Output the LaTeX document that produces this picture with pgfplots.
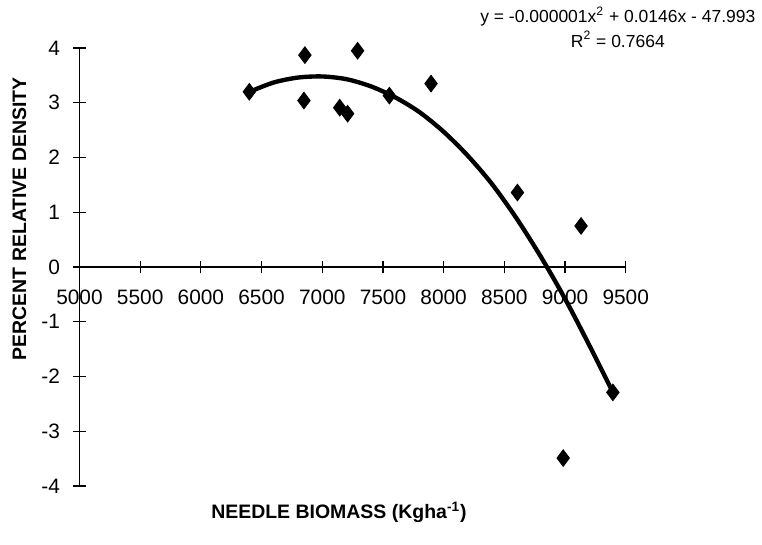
\documentclass[border=0pt]{standalone}
\usepackage{fontspec}
\setmainfont{Liberation Sans}
\usepackage{pgfplots}
\pgfplotsset{compat=1.18}

\begin{document}
\begin{tikzpicture}
\begin{axis}[
	width=275pt,
	height=220.5pt,
	scale only axis,
	xmin=5000, xmax=9500,
	ymin=-4, ymax=4,
	axis x line=middle,
	axis y line=left,
	axis line style={-, line width=0.6pt},
	xtick={5000,5500,...,9500},
	ytick={-4,-3,...,4},
	hide obscured x ticks=false,
	hide obscured y ticks=false,
	xtick align=center,
	ytick align=center,
	major tick length=6.5pt,
	tick style={black, line width=0.6pt},
	/pgf/number format/assume math mode=true,
	/pgf/number format/1000 sep={},
	ticklabel style={font=\fontsize{10.5}{12}\selectfont},
	xticklabel style={yshift=-5pt},
	yticklabel style={xshift=-3pt},
	xlabel={\textbf{NEEDLE BIOMASS (Kgha\textsuperscript{-1})}},
	ylabel={\textbf{PERCENT RELATIVE DENSITY}},
	label style={font=\fontsize{9.8}{11}\selectfont},
	xlabel style={at={(axis description cs:0.475,-0.061)}, anchor=center},
	ylabel style={at={(axis description cs:-0.11,0.61)}, anchor=center},
	clip=false,
]
	% fitted curve
	\addplot[black, line width=2.2pt, smooth] coordinates {
		(6400,3.20) (6600,3.37) (6800,3.46) (7000,3.48) (7200,3.43)
		(7400,3.30) (7600,3.10) (7800,2.83) (8000,2.47) (8200,2.03)
		(8400,1.51) (8600,0.89) (8800,0.19) (9000,-0.58) (9200,-1.43)
		(9394,-2.29)
	};
	% observations
	\addplot[only marks, mark=diamond*, mark size=4.2pt, black] coordinates {
		(6399,3.20) (6857,3.87) (7291,3.95) (6849,3.04) (7144,2.91)
		(7209,2.80) (7553,3.13) (7896,3.35) (8608,1.36) (9132,0.75)
		(9394,-2.29) (8985,-3.49)
	};
	\node[align=center, font=\fontsize{8.8}{12.5}\selectfont] at (axis cs:9435,4.38)
		{y = -0.000001x\textsuperscript{2} + 0.0146x - 47.993\\R\textsuperscript{2} = 0.7664};
	\path (rel axis cs:-0.1455,-0.1338) rectangle (rel axis cs:1.24,1.1043);
\end{axis}
\end{tikzpicture}
\end{document}
